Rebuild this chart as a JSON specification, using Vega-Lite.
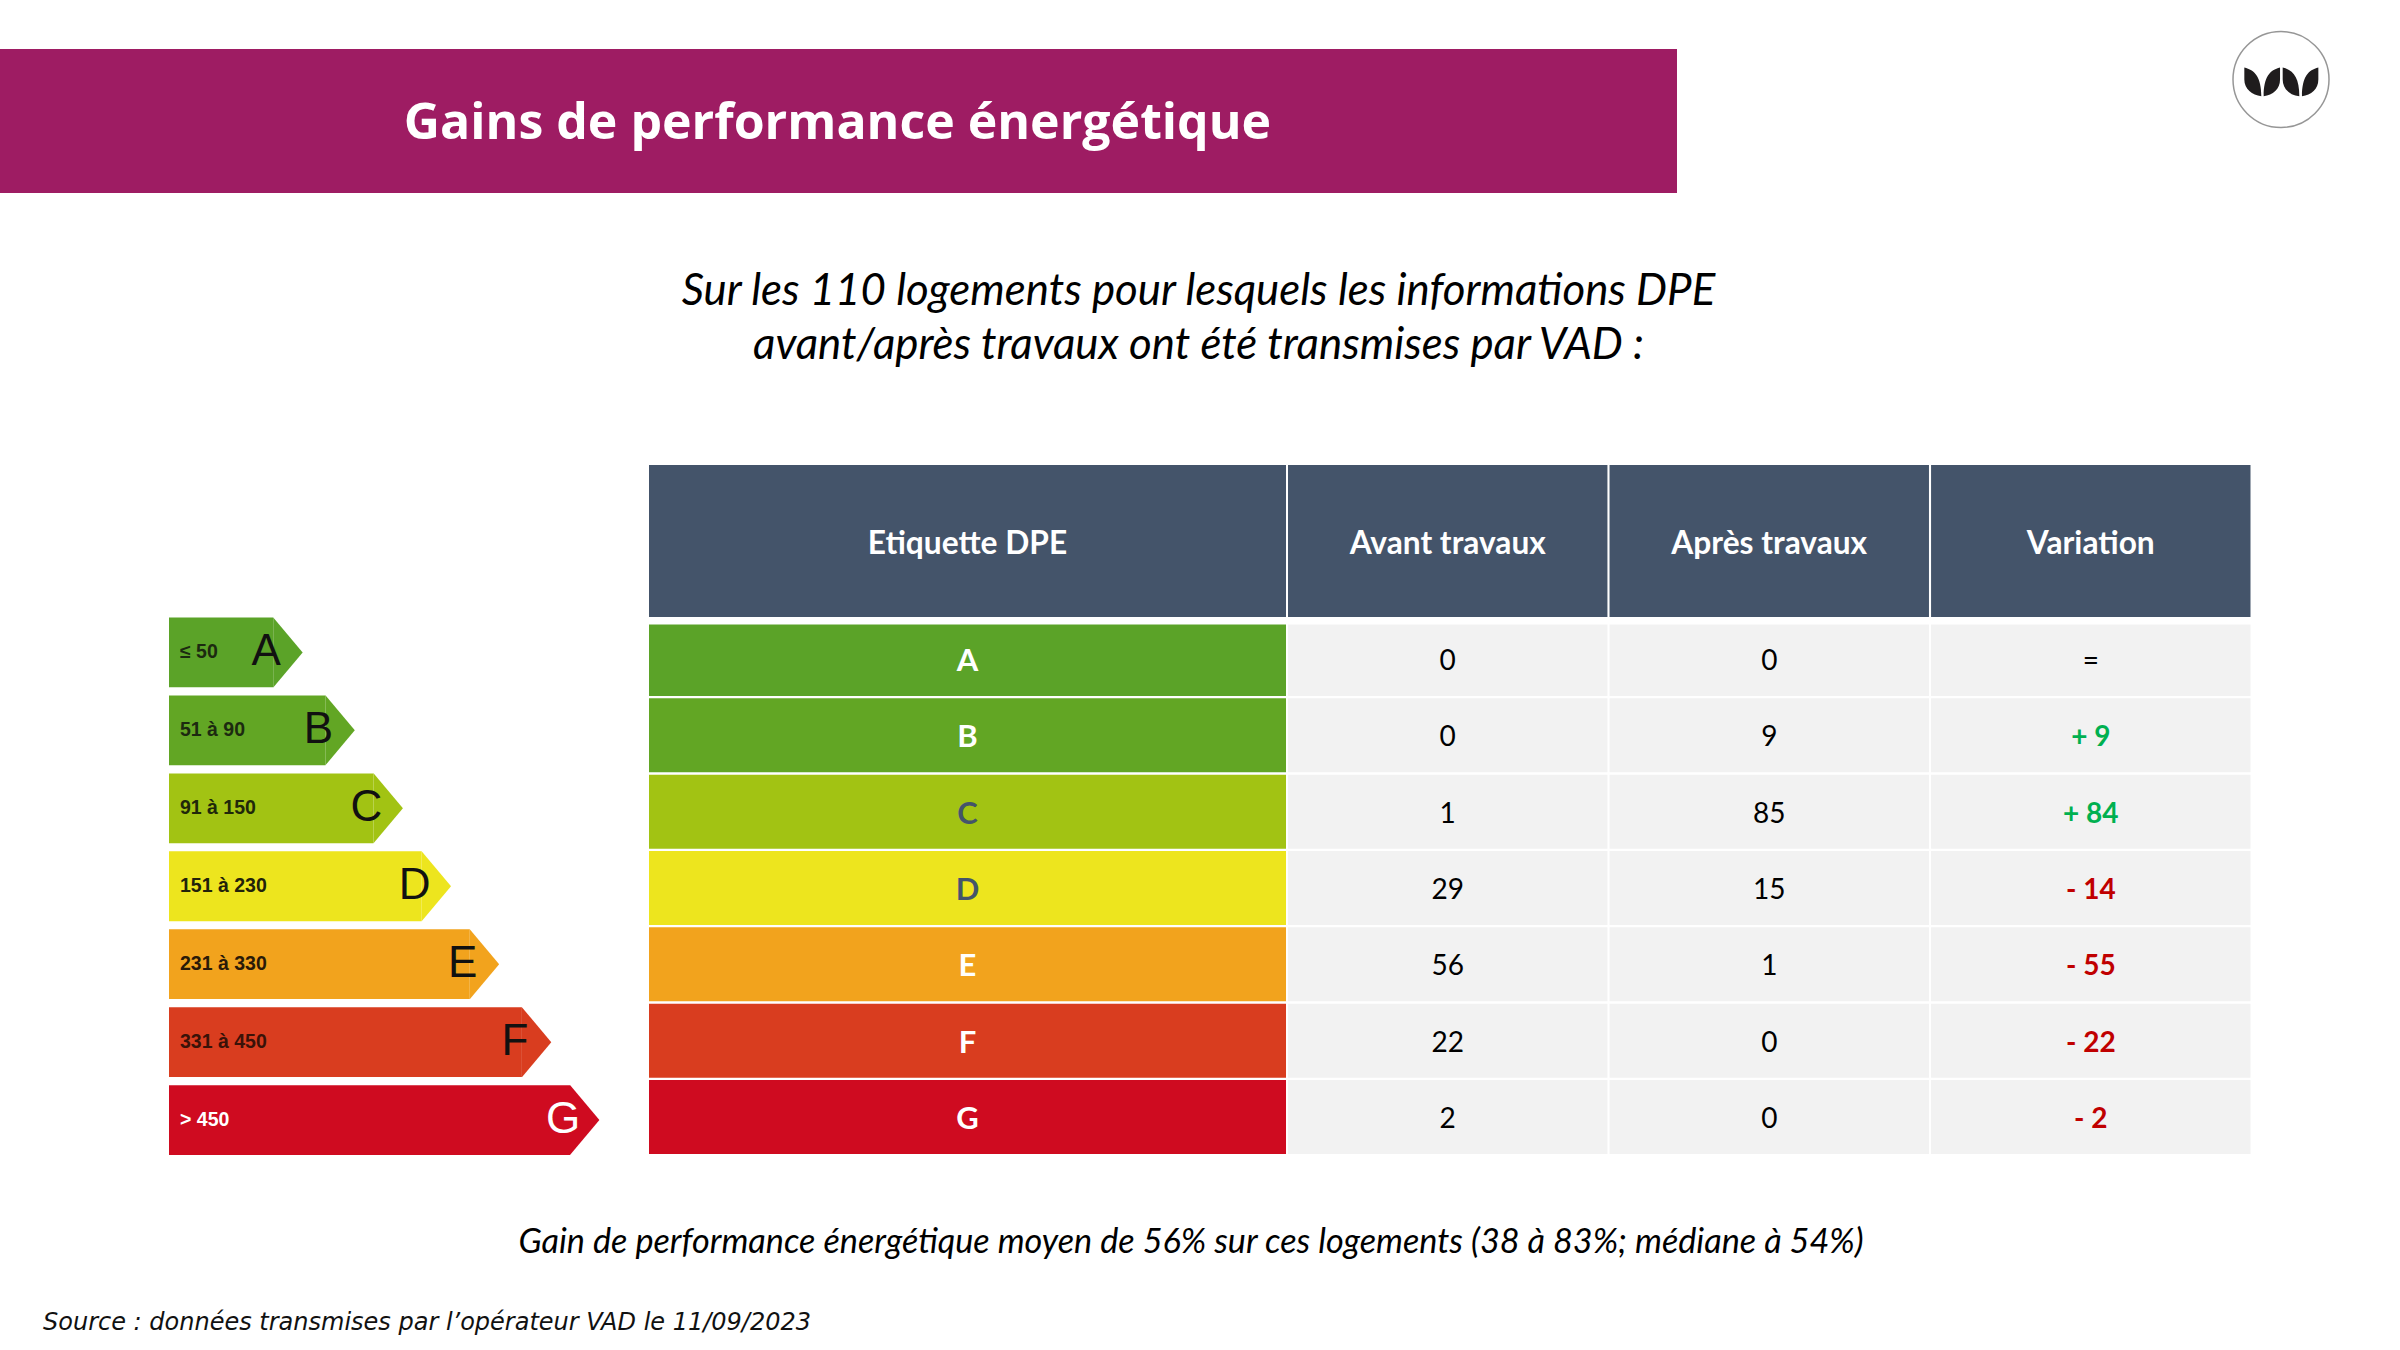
{"$schema":"https://vega.github.io/schema/vega-lite/v6.json","width":2400,"height":1350,"padding":0,"autosize":{"type":"fit","contains":"padding"},"background":"#ffffff","config":{"view":{"stroke":null},"axis":{"disable":true},"legend":{"disable":true}},
"datasets":{
"classes":[{"dpe":"A","plage":"≤ 50","longueur":26},{"dpe":"B","plage":"51 à 90","longueur":39},{"dpe":"C","plage":"91 à 150","longueur":51},{"dpe":"D","plage":"151 à 230","longueur":63},{"dpe":"E","plage":"231 à 330","longueur":75},{"dpe":"F","plage":"331 à 450","longueur":88},{"dpe":"G","plage":"> 450","longueur":100}],
"cellules":[
{"dpe":"A","colonne":"Avant travaux","valeur":"0","sens":"neutre"},{"dpe":"A","colonne":"Après travaux","valeur":"0","sens":"neutre"},{"dpe":"A","colonne":"Variation","valeur":"=","sens":"neutre"},
{"dpe":"B","colonne":"Avant travaux","valeur":"0","sens":"neutre"},{"dpe":"B","colonne":"Après travaux","valeur":"9","sens":"neutre"},{"dpe":"B","colonne":"Variation","valeur":"+ 9","sens":"hausse"},
{"dpe":"C","colonne":"Avant travaux","valeur":"1","sens":"neutre"},{"dpe":"C","colonne":"Après travaux","valeur":"85","sens":"neutre"},{"dpe":"C","colonne":"Variation","valeur":"+ 84","sens":"hausse"},
{"dpe":"D","colonne":"Avant travaux","valeur":"29","sens":"neutre"},{"dpe":"D","colonne":"Après travaux","valeur":"15","sens":"neutre"},{"dpe":"D","colonne":"Variation","valeur":"- 14","sens":"baisse"},
{"dpe":"E","colonne":"Avant travaux","valeur":"56","sens":"neutre"},{"dpe":"E","colonne":"Après travaux","valeur":"1","sens":"neutre"},{"dpe":"E","colonne":"Variation","valeur":"- 55","sens":"baisse"},
{"dpe":"F","colonne":"Avant travaux","valeur":"22","sens":"neutre"},{"dpe":"F","colonne":"Après travaux","valeur":"0","sens":"neutre"},{"dpe":"F","colonne":"Variation","valeur":"- 22","sens":"baisse"},
{"dpe":"G","colonne":"Avant travaux","valeur":"2","sens":"neutre"},{"dpe":"G","colonne":"Après travaux","valeur":"0","sens":"neutre"},{"dpe":"G","colonne":"Variation","valeur":"- 2","sens":"baisse"}],
"entetes":[{"colonne":"Avant travaux"},{"colonne":"Après travaux"},{"colonne":"Variation"}]
},
"resolve":{"scale":{"x":"independent","y":"independent","color":"independent"}},
"layer":[
{"data":{"values":[{"zone":"Bandeau","titre":"Gains de performance énergétique"}]},"mark":{"type":"rect","color":"#9E1C63"},"encoding":{"x":{"field":"zone","type":"nominal","scale":{"type":"band","domain":["Bandeau"],"range":[0,1677],"paddingInner":0,"paddingOuter":0}},"y":{"field":"zone","type":"nominal","scale":{"type":"band","domain":["Bandeau"],"range":[49,193],"paddingInner":0,"paddingOuter":0}}}},
{"data":{"values":[{"zone":"Bandeau","titre":"Gains de performance énergétique"}]},"mark":{"type":"text","font":"Open Sans","fontWeight":"bold","fontSize":50,"color":"#ffffff","align":"center","baseline":"middle","dy":3},"encoding":{"text":{"field":"titre"},"x":{"field":"zone","type":"nominal","scale":{"type":"band","domain":["Bandeau"],"range":[0,1675],"paddingInner":0,"paddingOuter":0}},"y":{"field":"zone","type":"nominal","scale":{"type":"band","domain":["Bandeau"],"range":[49,193],"paddingInner":0,"paddingOuter":0}}}},
{"data":{"values":[{"zone":"Logo"}]},"mark":{"type":"point","shape":"circle","size":9216,"filled":false,"stroke":"#6b6b6b","strokeWidth":1.5},"encoding":{"x":{"field":"zone","type":"nominal","scale":{"type":"band","domain":["Logo"],"range":[2233,2329],"paddingInner":0,"paddingOuter":0}},"y":{"field":"zone","type":"nominal","scale":{"type":"band","domain":["Logo"],"range":[31,128],"paddingInner":0,"paddingOuter":0}}}},
{"data":{"values":[{"zone":"Logo"}]},"mark":{"type":"point","size":9216,"filled":true,"opacity":1,"color":"#1f1c1d","shape":"M-.764,-.25C-.55,-.2,-.41,-.05,-.41,.347C-.6,.33,-.764,.2,-.764,0ZM-.02,-.25C-.23,-.2,-.361,-.05,-.361,.347C-.17,.33,-.02,.2,-.02,0ZM.035,-.25C.25,-.2,.382,-.05,.382,.347C.19,.33,.035,.2,.035,0ZM.778,-.25C.57,-.2,.437,-.05,.437,.347C.63,.33,.778,.2,.778,0Z"},"encoding":{"x":{"field":"zone","type":"nominal","scale":{"type":"band","domain":["Logo"],"range":[2233,2329],"paddingInner":0,"paddingOuter":0}},"y":{"field":"zone","type":"nominal","scale":{"type":"band","domain":["Logo"],"range":[31,128],"paddingInner":0,"paddingOuter":0}}}},
{"data":{"name":"classes"},"mark":{"type":"bar"},"encoding":{"x":{"field":"longueur","type":"quantitative","scale":{"domain":[0,100],"range":[169,570]}},"y":{"field":"dpe","type":"nominal","scale":{"type":"band","domain":["A","B","C","D","E","F","G"],"range":[617.5,1155],"paddingInner":0.105,"paddingOuter":0}},"color":{"field":"dpe","type":"nominal","scale":{"domain":["A","B","C","D","E","F","G"],"range":["#5BA328","#62A624","#A2C313","#EDE51E","#F2A31D","#D93D1F","#CF0B20"]}}}},
{"data":{"name":"classes"},"mark":{"type":"point","size":4900,"filled":true,"opacity":1,"shape":"M0,-1L.84,0L0,1Z"},"encoding":{"x":{"field":"longueur","type":"quantitative","scale":{"domain":[0,100],"range":[169,570]}},"y":{"field":"dpe","type":"nominal","scale":{"type":"band","domain":["A","B","C","D","E","F","G"],"range":[617.5,1155],"paddingInner":0.105,"paddingOuter":0}},"color":{"field":"dpe","type":"nominal","scale":{"domain":["A","B","C","D","E","F","G"],"range":["#5BA328","#62A624","#A2C313","#EDE51E","#F2A31D","#D93D1F","#CF0B20"]}}}},
{"data":{"name":"classes"},"mark":{"type":"text","font":"Liberation Sans","fontWeight":"bold","fontSize":19.5,"align":"left","baseline":"middle","dx":11},"encoding":{"text":{"field":"plage"},"x":{"datum":0,"type":"quantitative","scale":{"domain":[0,100],"range":[169,570]}},"y":{"field":"dpe","type":"nominal","scale":{"type":"band","domain":["A","B","C","D","E","F","G"],"range":[617.5,1155],"paddingInner":0.105,"paddingOuter":0}},"color":{"field":"dpe","type":"nominal","scale":{"domain":["A","B","C","D","E","F","G"],"range":["#1c2a10","#1c2a10","#20280a","#22220a","#2a1a08","#3a1208","#ffffff"]}}}},
{"data":{"name":"classes"},"mark":{"type":"text","font":"Liberation Sans","fontSize":44,"align":"center","baseline":"middle","dx":-7},"encoding":{"text":{"field":"dpe"},"x":{"field":"longueur","type":"quantitative","scale":{"domain":[0,100],"range":[169,570]}},"y":{"field":"dpe","type":"nominal","scale":{"type":"band","domain":["A","B","C","D","E","F","G"],"range":[617.5,1155],"paddingInner":0.105,"paddingOuter":0}},"color":{"field":"dpe","type":"nominal","scale":{"domain":["A","B","C","D","E","F","G"],"range":["#111111","#111111","#111111","#111111","#111111","#111111","#ffffff"]}}}},
{"data":{"values":[{"colonne":"Etiquette DPE"}]},"mark":{"type":"rect","color":"#44546A"},"encoding":{"x":{"field":"colonne","type":"nominal","scale":{"type":"band","domain":["Etiquette DPE"],"range":[649,1286],"paddingInner":0,"paddingOuter":0}},"y":{"datum":"En-tête","type":"nominal","scale":{"type":"band","domain":["En-tête"],"range":[465,617],"paddingInner":0,"paddingOuter":0}}}},
{"data":{"values":[{"colonne":"Etiquette DPE"}]},"mark":{"type":"text","font":"Lato","fontWeight":"bold","fontSize":31.7,"color":"#ffffff","align":"center","baseline":"middle"},"encoding":{"text":{"field":"colonne"},"x":{"field":"colonne","type":"nominal","scale":{"type":"band","domain":["Etiquette DPE"],"range":[649,1286],"paddingInner":0,"paddingOuter":0}},"y":{"datum":"En-tête","type":"nominal","scale":{"type":"band","domain":["En-tête"],"range":[465,622],"paddingInner":0,"paddingOuter":0}}}},
{"data":{"name":"entetes"},"mark":{"type":"rect","color":"#44546A"},"encoding":{"x":{"field":"colonne","type":"nominal","scale":{"type":"band","domain":["Avant travaux","Après travaux","Variation"],"range":[1288,2250.5],"paddingInner":0.0065,"paddingOuter":0}},"y":{"datum":"En-tête","type":"nominal","scale":{"type":"band","domain":["En-tête"],"range":[465,617],"paddingInner":0,"paddingOuter":0}}}},
{"data":{"name":"entetes"},"mark":{"type":"text","font":"Lato","fontWeight":"bold","fontSize":31.7,"color":"#ffffff","align":"center","baseline":"middle"},"encoding":{"text":{"field":"colonne"},"x":{"field":"colonne","type":"nominal","scale":{"type":"band","domain":["Avant travaux","Après travaux","Variation"],"range":[1288,2250.5],"paddingInner":0.0065,"paddingOuter":0}},"y":{"datum":"En-tête","type":"nominal","scale":{"type":"band","domain":["En-tête"],"range":[465,622],"paddingInner":0,"paddingOuter":0}}}},
{"data":{"name":"classes"},"mark":{"type":"rect"},"encoding":{"x":{"datum":"Etiquette DPE","type":"nominal","scale":{"type":"band","domain":["Etiquette DPE"],"range":[649,1286],"paddingInner":0,"paddingOuter":0}},"y":{"field":"dpe","type":"nominal","scale":{"type":"band","domain":["A","B","C","D","E","F","G"],"range":[622,1154],"paddingInner":0.03,"paddingOuter":0}},"color":{"field":"dpe","type":"nominal","scale":{"domain":["A","B","C","D","E","F","G"],"range":["#5BA328","#62A624","#A2C313","#EDE51E","#F2A31D","#D93D1F","#CF0B20"]}}}},
{"data":{"name":"cellules"},"mark":{"type":"rect","color":"#F2F2F2"},"encoding":{"x":{"field":"colonne","type":"nominal","scale":{"type":"band","domain":["Avant travaux","Après travaux","Variation"],"range":[1288,2250.5],"paddingInner":0.0065,"paddingOuter":0}},"y":{"field":"dpe","type":"nominal","scale":{"type":"band","domain":["A","B","C","D","E","F","G"],"range":[622,1154],"paddingInner":0.03,"paddingOuter":0}}}},
{"data":{"values":[{"zone":"Marge"}]},"mark":{"type":"rect","color":"#ffffff"},"encoding":{"x":{"field":"zone","type":"nominal","scale":{"type":"band","domain":["Marge"],"range":[640,2260],"paddingInner":0,"paddingOuter":0}},"y":{"field":"zone","type":"nominal","scale":{"type":"band","domain":["Marge"],"range":[618,624.5],"paddingInner":0,"paddingOuter":0}}}},
{"data":{"name":"classes"},"mark":{"type":"text","font":"Lato","fontWeight":"bold","fontSize":31,"align":"center","baseline":"middle","dy":3},"encoding":{"text":{"field":"dpe"},"x":{"datum":"Etiquette DPE","type":"nominal","scale":{"type":"band","domain":["Etiquette DPE"],"range":[649,1286],"paddingInner":0,"paddingOuter":0}},"y":{"field":"dpe","type":"nominal","scale":{"type":"band","domain":["A","B","C","D","E","F","G"],"range":[622,1154],"paddingInner":0.03,"paddingOuter":0}},"color":{"field":"dpe","type":"nominal","scale":{"domain":["A","B","C","D","E","F","G"],"range":["#ffffff","#ffffff","#44546A","#44546A","#ffffff","#ffffff","#ffffff"]}}}},
{"data":{"name":"cellules"},"transform":[{"filter":"datum.sens === 'neutre'"}],"mark":{"type":"text","font":"Lato","fontSize":28,"color":"#000000","align":"center","baseline":"middle","dy":3},"encoding":{"text":{"field":"valeur"},"x":{"field":"colonne","type":"nominal","scale":{"type":"band","domain":["Avant travaux","Après travaux","Variation"],"range":[1288,2250.5],"paddingInner":0.0065,"paddingOuter":0}},"y":{"field":"dpe","type":"nominal","scale":{"type":"band","domain":["A","B","C","D","E","F","G"],"range":[622,1154],"paddingInner":0.03,"paddingOuter":0}}}},
{"data":{"name":"cellules"},"transform":[{"filter":"datum.sens !== 'neutre'"}],"mark":{"type":"text","font":"Lato","fontWeight":"bold","fontSize":28,"align":"center","baseline":"middle","dy":3},"encoding":{"text":{"field":"valeur"},"x":{"field":"colonne","type":"nominal","scale":{"type":"band","domain":["Avant travaux","Après travaux","Variation"],"range":[1288,2250.5],"paddingInner":0.0065,"paddingOuter":0}},"y":{"field":"dpe","type":"nominal","scale":{"type":"band","domain":["A","B","C","D","E","F","G"],"range":[622,1154],"paddingInner":0.03,"paddingOuter":0}},"color":{"field":"sens","type":"nominal","scale":{"domain":["hausse","baisse"],"range":["#00B050","#C00000"]}}}},
{"data":{"values":[{"ligne":"L1","texte":"Sur les 110 logements pour lesquels les informations DPE"},{"ligne":"L2","texte":"avant/après travaux ont été transmises par VAD :"}]},"mark":{"type":"text","font":"Lato","fontStyle":"italic","fontSize":43.8,"color":"#000000","align":"center","baseline":"middle"},"encoding":{"text":{"field":"texte"},"x":{"datum":"Sous-titre","type":"nominal","scale":{"type":"band","domain":["Sous-titre"],"range":[0,2397],"paddingInner":0,"paddingOuter":0}},"y":{"field":"ligne","type":"nominal","scale":{"type":"band","domain":["L1","L2"],"range":[265,373],"paddingInner":0,"paddingOuter":0}}}},
{"data":{"values":[{"ligne":"Note","texte":"Gain de performance énergétique moyen de 56% sur ces logements (38 à 83%; médiane à 54%)"}]},"mark":{"type":"text","font":"Lato","fontStyle":"italic","fontSize":34.2,"color":"#000000","align":"center","baseline":"middle"},"encoding":{"text":{"field":"texte"},"x":{"field":"ligne","type":"nominal","scale":{"type":"band","domain":["Note"],"range":[0,2382],"paddingInner":0,"paddingOuter":0}},"y":{"field":"ligne","type":"nominal","scale":{"type":"band","domain":["Note"],"range":[1223,1263],"paddingInner":0,"paddingOuter":0}}}},
{"data":{"values":[{"ligne":"Source","texte":"Source : données transmises par l’opérateur VAD le 11/09/2023"}]},"mark":{"type":"text","font":"DejaVu Sans","fontStyle":"italic","fontSize":24,"color":"#111111","align":"left","baseline":"middle"},"encoding":{"text":{"field":"texte"},"x":{"field":"ligne","type":"nominal","scale":{"type":"band","domain":["Source"],"range":[42,44],"paddingInner":0,"paddingOuter":0}},"y":{"field":"ligne","type":"nominal","scale":{"type":"band","domain":["Source"],"range":[1306,1339],"paddingInner":0,"paddingOuter":0}}}}
]}
